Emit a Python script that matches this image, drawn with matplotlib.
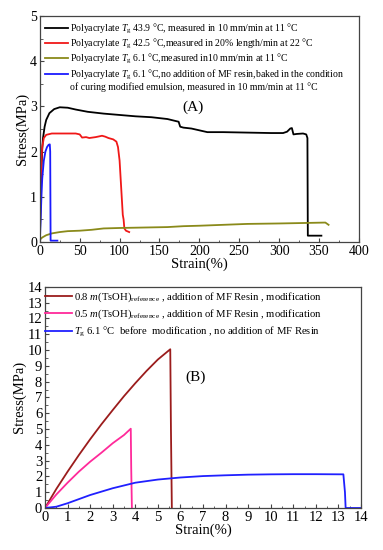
import matplotlib
matplotlib.use('Agg')
import matplotlib.pyplot as plt
from matplotlib.lines import Line2D
from matplotlib.ticker import MultipleLocator

plt.rcParams['font.family'] = ['Liberation Serif', 'DejaVu Serif']
plt.rcParams['mathtext.fontset'] = 'custom'
plt.rcParams['mathtext.rm'] = 'Liberation Serif'
plt.rcParams['mathtext.it'] = 'Liberation Serif:italic'

# ---- panel A : polyacrylate films ----
a_black_x = [0, 1, 2, 3, 4, 6, 8, 12, 18, 25, 35, 45, 60, 80, 100, 120, 140, 160, 174, 176, 180, 190,
             200, 210, 230, 260, 290, 305, 310, 314, 316, 318, 322, 330, 334, 335.5, 336, 353]
a_black_y = [0, 0.9, 1.6, 2.05, 2.3, 2.55, 2.7, 2.85, 2.94, 2.98, 2.97, 2.93, 2.88, 2.84, 2.81, 2.78, 2.76,
             2.72, 2.66, 2.55, 2.53, 2.51, 2.47, 2.43, 2.43, 2.42, 2.41, 2.41, 2.44, 2.51, 2.52, 2.38, 2.39,
             2.40, 2.38, 2.3, 0.14, 0.14]

a_red_x = [0, 1, 2, 3, 5, 8, 15, 30, 45, 50, 53, 58, 62, 70, 78, 82, 86, 92, 96, 98, 100, 102, 104, 105,
           106, 108, 112]
a_red_y = [0, 1.2, 1.8, 2.1, 2.3, 2.37, 2.4, 2.4, 2.4, 2.38, 2.31, 2.32, 2.3, 2.32, 2.35, 2.33, 2.3, 2.27,
           2.22, 2.1, 1.8, 1.2, 0.6, 0.5, 0.3, 0.25, 0.22]

a_olive_x = [0, 3, 8, 15, 25, 35, 50, 65, 80, 100, 130, 160, 180, 200, 230, 260, 300, 330, 358, 362]
a_olive_y = [0.05, 0.1, 0.15, 0.19, 0.22, 0.24, 0.25, 0.27, 0.3, 0.31, 0.32, 0.33, 0.35, 0.36, 0.38,
             0.4, 0.41, 0.42, 0.43, 0.38]

a_blue_x = [0, 1, 2, 3, 5, 7, 9, 11, 12.5, 13, 13.5, 22]
a_blue_y = [0, 0.5, 1.0, 1.4, 1.8, 2.0, 2.1, 2.15, 2.16, 2.0, 0.03, 0.03]

a_labels = [
    r'Polyacrylate $T_{\rm g}$ 43.9 °C, measured in 10 mm/min at 11 °C',
    r'Polyacrylate $T_{\rm g}$ 42.5 °C,measured in 20% length/min at 22 °C',
    r'Polyacrylate $T_{\rm g}$ 6.1 °C,measured in10 mm/min at 11 °C',
    r'Polyacrylate $T_{\rm g}$ 6.1 °C,no addition of MF resin,baked in the condition',
    'of curing modified emulsion, measured in 10 mm/min at 11 °C',
]

# ---- panel B : modified films ----
b_dred_x = [0, 0.5, 1, 1.5, 2, 2.5, 3, 3.5, 4, 4.5, 5, 5.55, 5.58, 5.62]
b_dred_y = [0, 1.2, 2.3, 3.35, 4.35, 5.3, 6.2, 7.08, 7.9, 8.68, 9.4, 10.05, 5.0, 0]

b_pink_x = [0, 0.5, 1, 1.5, 2, 2.5, 3, 3.5, 3.8, 3.82, 3.85]
b_pink_y = [0, 0.85, 1.6, 2.3, 2.93, 3.5, 4.1, 4.62, 5.02, 2.5, 0]

b_blue_x = [0, 0.5, 1, 1.5, 2, 3, 4, 5, 6, 7, 8, 9, 10, 11, 12, 13.22, 13.29, 13.32, 14]
b_blue_y = [0, 0.08, 0.3, 0.56, 0.82, 1.25, 1.6, 1.8, 1.93, 2.02, 2.07, 2.11, 2.13, 2.14, 2.14, 2.13,
            1.0, 0, 0]

b_labels = [
    r'0.8 $m$(TsOH)$_{\rm reference}$ , addition of MF Resin , modification',
    r'0.5 $m$(TsOH)$_{\rm reference}$ , addition of MF Resin , modification',
    r'$T_{\rm g}$ 6.1 °C  before  modification , no addition of MF Resin',
]

fig = plt.figure(figsize=(3.83, 5.5), dpi=100)


def style(ax, size):
    for s in ax.spines.values():
        s.set_color('#444444')
        s.set_linewidth(0.9)
    ax.tick_params(which='both', direction='in', top=False, right=False, labelsize=size, colors='#444444',
                   labelcolor='black', pad=2)
    ax.tick_params(which='major', length=3)
    ax.tick_params(which='minor', length=1.8)


axA = fig.add_axes([0.104, 0.56, 0.833, 0.411])
axA.plot(a_black_x, a_black_y, color='black', lw=1.3, label=a_labels[0])
axA.plot(a_red_x, a_red_y, color='#f01818', lw=1.3, label=a_labels[1])
axA.plot(a_olive_x, a_olive_y, color='#8a8a1a', lw=1.3, label=a_labels[2])
axA.plot(a_blue_x, a_blue_y, color='#1a1aff', lw=1.3, label=a_labels[3])
blank = Line2D([], [], color='none')
axA.set_xlim(0, 400)
axA.set_ylim(0, 5)
axA.xaxis.set_major_locator(MultipleLocator(50))
axA.xaxis.set_minor_locator(MultipleLocator(25))
axA.yaxis.set_major_locator(MultipleLocator(1))
axA.yaxis.set_minor_locator(MultipleLocator(0.5))
style(axA, 10)
axA.set_xlabel('Strain(%)', fontsize=10.5, labelpad=0)
axA.set_ylabel('Stress(MPa)', fontsize=10.5, labelpad=1)
handles = axA.get_lines()[:4] + [blank]
axA.legend(handles, a_labels, loc='upper left', bbox_to_anchor=(0.015, 0.975), frameon=False,
           fontsize=7, handlelength=2.4, handletextpad=0.25, labelspacing=0.12,
           borderaxespad=0, borderpad=0)
axA.text(192, 2.98, '(A)', fontsize=11, ha='center', va='center')

axB = fig.add_axes([0.1175, 0.0764, 0.825, 0.402])
axB.plot(b_dred_x, b_dred_y, color='#9b1c1c', lw=1.3, label=b_labels[0])
axB.plot(b_pink_x, b_pink_y, color='#ff2a9a', lw=1.3, label=b_labels[1])
axB.plot(b_blue_x, b_blue_y, color='#2020ff', lw=1.3, label=b_labels[2])
axB.set_xlim(0, 14)
axB.set_ylim(0, 14)
axB.xaxis.set_major_locator(MultipleLocator(1))
axB.xaxis.set_minor_locator(MultipleLocator(0.5))
axB.yaxis.set_major_locator(MultipleLocator(1))
axB.yaxis.set_minor_locator(MultipleLocator(0.5))
style(axB, 10.5)
axB.set_xlabel('Strain(%)', fontsize=10.5, labelpad=0)
axB.set_ylabel('Stress(MPa)', fontsize=10.5, labelpad=1)
axB.legend(loc='upper left', bbox_to_anchor=(0.0, 0.985), frameon=False,
           fontsize=7.7, handlelength=2.5, handletextpad=0.2, labelspacing=0.38,
           borderaxespad=0, borderpad=0)
axB.text(6.65, 8.3, '(B)', fontsize=11, ha='center', va='center')

fig.savefig('out.png', dpi=100)
